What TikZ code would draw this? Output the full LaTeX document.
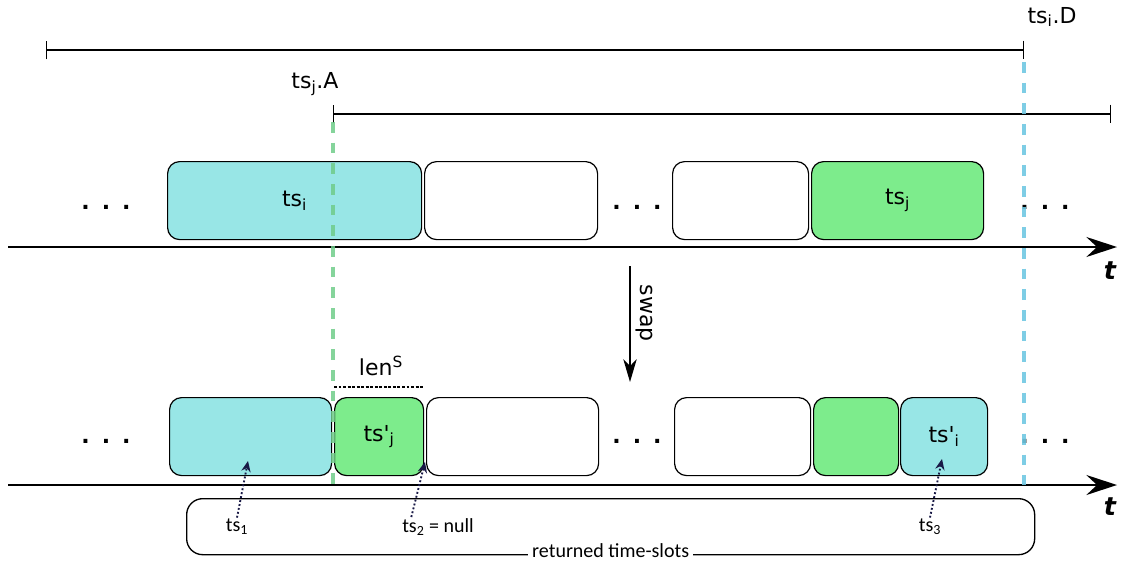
\documentclass[tikz,border=0pt]{standalone}
\usepackage{fontspec}
\usetikzlibrary{arrows.meta}
\newfontfamily\labfont{DejaVu Sans}
\newfontfamily\notefont{Carlito}
\definecolor{slotcyan}{RGB}{152,230,230}
\definecolor{slotgreen}{RGB}{125,236,140}
\definecolor{markgreen}{RGB}{112,204,138}
\definecolor{markblue}{RGB}{112,200,226}
\definecolor{pointnavy}{RGB}{25,25,70}
\newcommand\dotsrow{\bfseries.\hspace{9pt}.\hspace{9pt}.}

\begin{document}
\begin{tikzpicture}[
        x=0.75pt, y=-0.75pt,
        font=\labfont\fontsize{16.5}{20}\selectfont,
        slot/.style={
            draw,
            rounded corners=9pt,
            line width=0.9pt,
            anchor=north west,
            inner sep=0pt,
            minimum height=58.5pt,
            minimum width=#1*0.75pt
        },
        span/.style={
            {Bar[width=14pt]}-{Bar[width=14pt]},
            line width=1.1pt
        },
        bound_mark/.style={
            line width=3pt,
            dash pattern=on 8pt off 7.5pt
        },
        time_axis/.style={
            -{Stealth[length=23pt, width=15pt, inset=8pt]},
            line width=1.5pt
        },
        axis_label/.style={
            font=\labfont\fontsize{19}{22}\selectfont\bfseries\itshape
        },
        note/.style={
            font=\notefont\fontsize{15}{18}\selectfont,
            inner sep=1pt
        },
        pick/.style={
            -{Stealth[length=8pt, width=7pt]},
            dash pattern=on 1.4pt off 1.6pt,
            line width=1.4pt,
            draw=pointnavy
        }
    ]
        \useasboundingbox (0,0) rectangle (1121,561);

        \coordinate (outerL) at (46,50);
        \coordinate (outerR) at (1024,50);
        \coordinate (innerL) at (333,114);
        \coordinate (innerR) at (1111,114);
        \draw[span] (outerL) -- (outerR);
        \draw[span] (innerL) -- (innerR);
        \node (deadline) at (1052,17) {ts\textsubscript{i}.D};
        \node (arrival) at (315,84) {ts\textsubscript{j}.A};

        \node[slot=254, fill=slotcyan] (tsi) at (167,161) {ts\textsubscript{i}};
        \node[slot=173] (freeA) at (424,161) {};
        \node[slot=136] (freeB) at (672,161) {};
        \node[slot=172, fill=slotgreen] (tsj) at (811,161) {ts\textsubscript{j}};

        \node (dotsA) at (106,207) {\dotsrow};
        \node (dotsB) at (637,207) {\dotsrow};
        \node (dotsC) at (1045,207) {\dotsrow};

        \coordinate (axisTopW) at (8,247);
        \coordinate (axisTopE) at (1117,247);
        \draw[time_axis] (axisTopW) -- (axisTopE);
        \node[axis_label] (tTop) at (1110,271) {t};

        \coordinate (swapFrom) at (630,266);
        \coordinate (swapTo) at (630,382);
        \draw[-{Stealth[length=17pt, width=10pt, inset=5pt]}, line width=1.1pt] (swapFrom) -- (swapTo);
        \node[rotate=-90] (swap) at (644,313) {swap};

        \node[slot=162, fill=slotcyan] (newi) at (169,397) {};
        \node[slot=89, fill=slotgreen] (newj) at (334,397) {ts'\textsubscript{j}};
        \node[slot=172] (freeC) at (426,397) {};
        \node[slot=136] (freeD) at (674,397) {};
        \node[slot=85, fill=slotgreen] (restj) at (813,397) {};
        \node[slot=87, fill=slotcyan] (resti) at (900,397) {ts'\textsubscript{i}};

        \node (lenS) at (381,366) {len\textsuperscript{S}};
        \draw[dash pattern=on 2.2pt off 1.2pt, line width=1.1pt] ([yshift=7.5pt]newj.north west) -- ([yshift=7.5pt]newj.north east);

        \node (dotsD) at (106,441) {\dotsrow};
        \node (dotsE) at (637,441) {\dotsrow};
        \node (dotsF) at (1045,441) {\dotsrow};

        \coordinate (axisBotW) at (8,485);
        \coordinate (axisBotE) at (1117,485);
        \draw[time_axis] (axisBotW) -- (axisBotE);
        \node[axis_label] (tBot) at (1110,507) {t};

        \coordinate (markATop) at (333,122);
        \coordinate (markABot) at (333,485);
        \coordinate (markDTop) at (1024,62);
        \coordinate (markDBot) at (1024,485);
        \draw[bound_mark, markgreen, opacity=0.85] (markATop) -- (markABot);
        \draw[bound_mark, markblue, opacity=0.9] (markDTop) -- (markDBot);

        \node[draw, rounded corners=12pt, line width=1pt, anchor=north west, inner sep=0pt,
            minimum width=848*0.75pt, minimum height=56*0.75pt] (returned) at (186,498) {};
        \node[note, fill=white, anchor=base, inner xsep=3pt, inner ysep=1pt] (returnedLabel)
            at ([yshift=-1.5pt]returned.south) {returned time-slots};

        \node[note] (tsA) at (237,527) {ts\textsubscript{1}};
        \node[note] (tsB) at (438,527) {ts\textsubscript{2} = null};
        \node[note] (tsC) at (930,527) {ts\textsubscript{3}};
        \coordinate (pickA) at (248,461);
        \coordinate (pickB) at (425,462);
        \coordinate (pickC) at (942,459);
        \draw[pick] (tsA.north) -- (pickA);
        \draw[pick] ([xshift=8pt]tsB.north west) -- (pickB);
        \draw[pick] (tsC.north) -- (pickC);

    \end{tikzpicture}
\end{document}
